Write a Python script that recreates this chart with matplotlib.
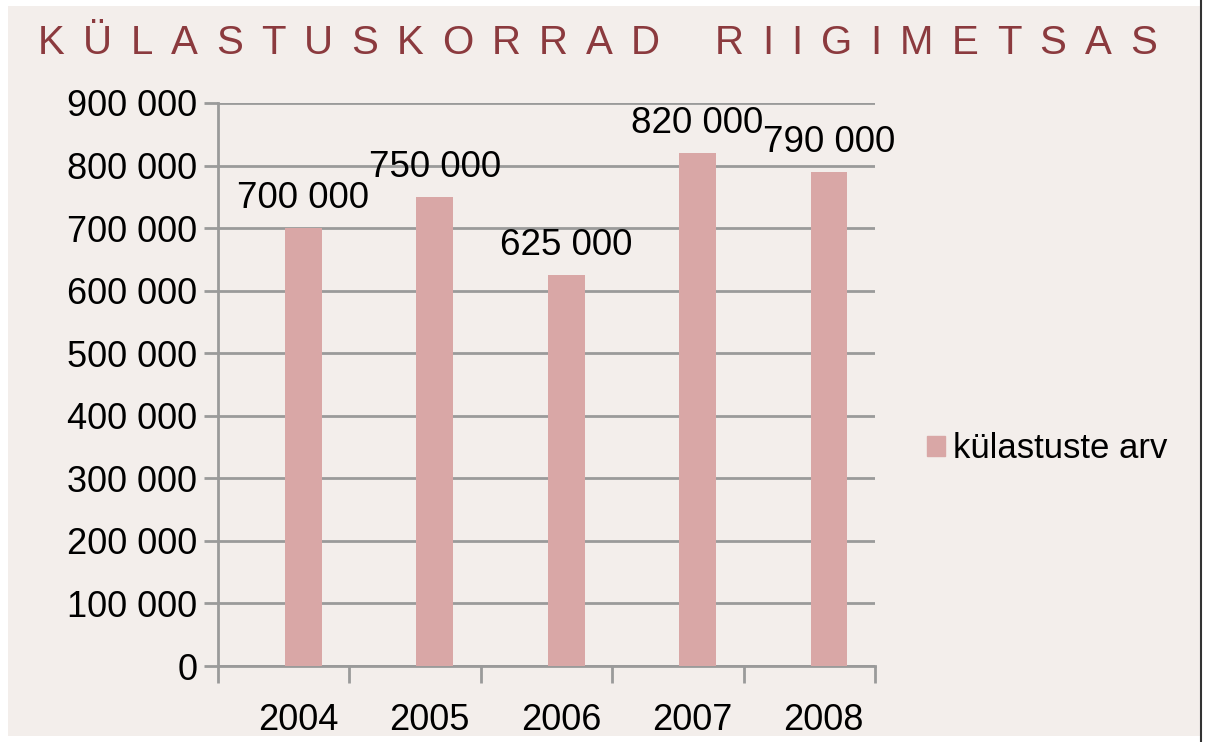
import matplotlib.pyplot as plt
import matplotlib.patches as mpatches
import numpy as np
from matplotlib.ticker import FuncFormatter, FixedLocator

# data
years = ['2004', '2005', '2006', '2007', '2008']
visits = [700000, 750000, 625000, 820000, 790000]
value_labels = ['700 000', '750 000', '625 000', '820 000', '790 000']
title_text = 'KÜLASTUSKORRAD RIIGIMETSAS'
series_name = 'külastuste arv'

bg = '#f3eeeb'
bar_col = '#d9a7a6'
title_col = '#8b3a3e'
grid_col = '#9a9a9a'

plt.rcParams['font.family'] = ['Liberation Sans', 'DejaVu Sans']

fig = plt.figure(figsize=(12.08, 7.42), dpi=100)
fig.patch.set_facecolor('white')
# panel background with the dark right edge
fig.patches.append(mpatches.Rectangle((8/1208, 6/742), 1192/1208, 730/742,
                                      transform=fig.transFigure, facecolor=bg,
                                      edgecolor='none', zorder=-10))
fig.add_artist(plt.Line2D([1201/1208, 1201/1208], [0, 1], transform=fig.transFigure,
                          color='#333333', lw=1.5))

ax = fig.add_axes([218/1208, 1 - 666/742, 657/1208, 563/742])
ax.patch.set_alpha(0)

x = np.arange(len(years))
bar_shift = 0.15   # bars sit right of the category centre, as in the original
bars = ax.bar(x + bar_shift, visits, width=0.28, color=bar_col, zorder=3)

ax.set_xlim(-0.5, len(years) - 0.5)
ax.set_ylim(0, 900000)
ax.set_yticks(np.arange(0, 900001, 100000))
ax.yaxis.set_major_formatter(FuncFormatter(lambda v, p: f'{int(v):,}'.replace(',', ' ')))
ax.grid(axis='y', color=grid_col, lw=2, zorder=1)
ax.tick_params(axis='y', length=10, width=2, color=grid_col, pad=5, labelsize=26)

# x ticks at category boundaries, labels near centres
ax.xaxis.set_major_locator(FixedLocator(np.arange(-0.5, len(years), 1.0)))
ax.xaxis.set_major_formatter(FuncFormatter(lambda v, p: ''))
ax.xaxis.set_minor_locator(FixedLocator(x + 0.11))
ax.set_xticklabels(years, minor=True)
ax.tick_params(axis='x', which='major', length=12, width=2, color=grid_col)
ax.tick_params(axis='x', which='minor', length=0, pad=27, labelsize=26)

for s in ['top', 'right']:
    ax.spines[s].set_visible(False)
for s in ['left', 'bottom']:
    ax.spines[s].set_color(grid_col)
    ax.spines[s].set_linewidth(2)

for xi, v, lab in zip(x + bar_shift, visits, value_labels):
    ax.annotate(lab, (xi, v), xytext=(0, 14.5), textcoords='offset points',
                ha='center', va='baseline', fontsize=26.5, zorder=5)

# legend
ax.legend([mpatches.Patch(color=bar_col)], [series_name], loc='center left',
          bbox_to_anchor=((927 - 218) / 657, (666 - 449) / 563), frameon=False,
          fontsize=25, borderpad=0, borderaxespad=0,
          handlelength=0.52, handleheight=0.52, handletextpad=0.23)

# letter-spaced title, stretched to span the panel
renderer = fig.canvas.get_renderer()
chars = [c for c in title_text]
texts = []
for ch in chars:
    t = fig.text(0, 1 - 43 / 742, ch, fontsize=29, color=title_col,
                 va='center', ha='left')
    texts.append(t)
widths = [t.get_window_extent(renderer).width if c != ' ' else 0 for t, c in zip(texts, chars)]
n_gaps = len(chars) - 1
word_gap_units = 4
track = (1175 - 38 - sum(widths)) / (n_gaps - 2 + word_gap_units)
xpos = 38
for t, c, w in zip(texts, chars, widths):
    if c == ' ':
        t.set_visible(False)
        xpos += track * (word_gap_units - 2)
        continue
    t.set_x(xpos / 1208)
    xpos += w + track

fig.savefig('out.png', dpi=100, facecolor=fig.get_facecolor())
